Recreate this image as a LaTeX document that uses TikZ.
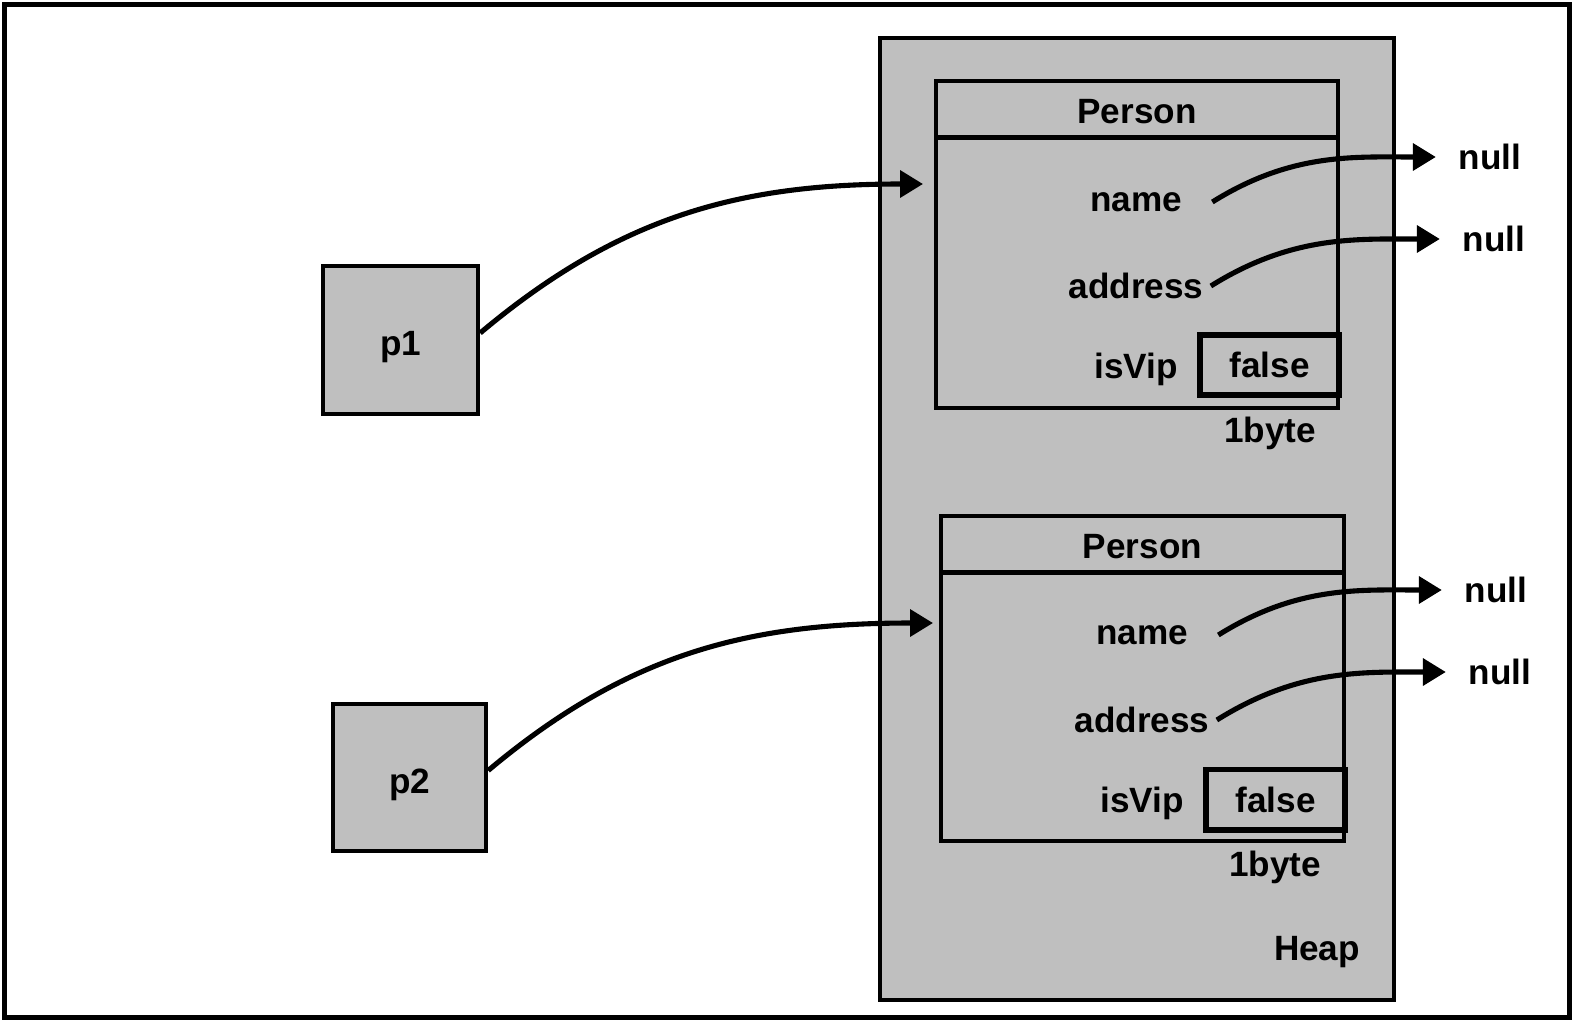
\documentclass[tikz,border=0pt]{standalone}
\usepackage{fontspec}
\setmainfont{Liberation Sans}
\usepackage{xcolor}
\usetikzlibrary{positioning,arrows.meta}

\begin{document}
\begin{tikzpicture}[
  cell/.style={draw, line width=1.25pt, fill=black!25, inner sep=0pt, font=\bfseries},
  hdr/.style={cell, minimum width=#1, minimum height=0.565cm, text height=8.3pt, text depth=0pt},
  lbl/.style={font=\bfseries, yshift=-0.03cm},
  valbox/.style={draw, line width=1.7pt, minimum width=1.39cm, minimum height=0.6cm, inner sep=0pt, font=\bfseries},
  link/.style={-{Triangle[length=6.5pt,width=7.5pt]}, line width=1.45pt}
]
  \useasboundingbox (0,0) rectangle (15.74,-10.22);
  \draw[line width=1.5pt] (0.045,-0.045) rectangle (15.695,-10.175);

  \node[cell, minimum width=5.14cm, minimum height=9.62cm] (heap) at (11.37,-5.19) {};
  \node[lbl] (heaplbl) at (13.17,-9.49) {Heap};

  \node[cell, minimum width=1.55cm, minimum height=1.48cm, text height=8.9pt, text depth=0pt] (p1) at (4.005,-3.40) {p1};
  \node[cell, minimum width=1.53cm, minimum height=1.47cm, text height=8.9pt, text depth=0pt] (p2) at (4.095,-7.775) {p2};

  \node[cell, minimum width=4.02cm, minimum height=3.27cm] (obj1) at (11.37,-2.445) {};
  \node[hdr=4.02cm, below=0pt of obj1.north] (hd1) {Person};
  \node[lbl] (nm1) at (11.36,-1.99) {name};
  \node[lbl] (ad1) at (11.36,-2.83) {address};
  \node[lbl] (vip1) at (11.36,-3.66) {isVip};
  \node[valbox] (val1) at (12.695,-3.65) {false};
  \node[lbl] (sz1) at (12.70,-4.30) {1byte};
  \node[lbl] (null1) at (14.90,-1.54) {null};
  \node[lbl] (null2) at (14.94,-2.36) {null};

  \node[cell, minimum width=4.03cm, minimum height=3.25cm] (obj2) at (11.425,-6.785) {};
  \node[hdr=4.03cm, below=0pt of obj2.north] (hd2) {Person};
  \node[lbl] (nm2) at (11.42,-6.32) {name};
  \node[lbl] (ad2) at (11.42,-7.17) {address};
  \node[lbl] (vip2) at (11.42,-8.00) {isVip};
  \node[valbox] (val2) at (12.755,-7.995) {false};
  \node[lbl] (sz2) at (12.75,-8.64) {1byte};
  \node[lbl] (null3) at (14.96,-5.87) {null};
  \node[lbl] (null4) at (15.00,-6.69) {null};

  \coordinate (in1) at (9.23,-1.84);
  \coordinate (in2) at (9.33,-6.23);

  \draw[link] ([yshift=2pt]p1.east) to[out=40,in=180] (in1);
  \draw[link] ([yshift=2pt]p2.east) to[out=40,in=180] (in2);

  \draw[link, shorten >=3pt] ([xshift=0.18cm]nm1.east) to[out=32,in=180] (null1);
  \draw[link, shorten >=3pt] ([xshift=-0.05cm]ad1.east) to[out=32,in=180] (null2);
  \draw[link, shorten >=3pt] ([xshift=0.18cm]nm2.east) to[out=32,in=180] (null3);
  \draw[link, shorten >=3pt] ([xshift=-0.05cm]ad2.east) to[out=32,in=180] (null4);
\end{tikzpicture}
\end{document}
